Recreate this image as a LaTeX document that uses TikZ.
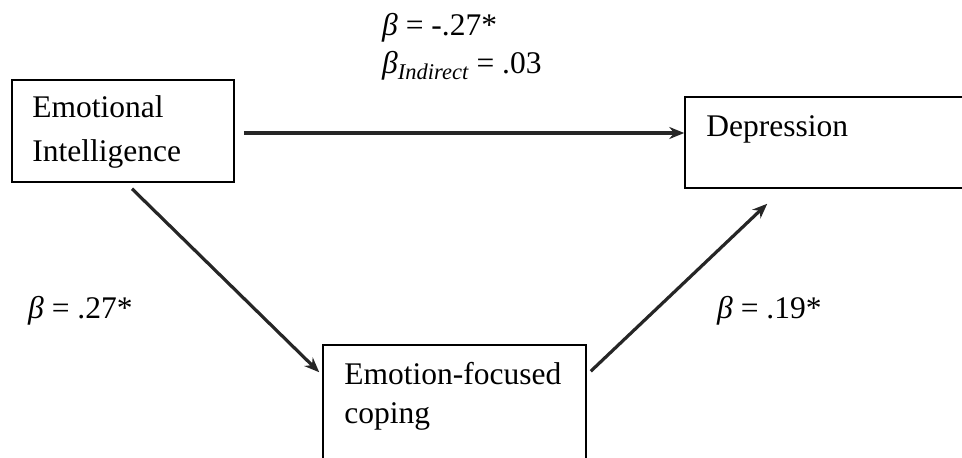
\documentclass[tikz,border=0pt]{standalone}
\usepackage{fontspec}
\setmainfont{Liberation Serif}
\usetikzlibrary{arrows.meta}

\begin{document}
\begin{tikzpicture}[
    x=1pt, y=-1pt,
    construct/.style={draw, line width=1.5pt, inner sep=0pt},
    boxtext/.style={font=\fontsize{31.5}{44}\selectfont, align=left, inner sep=0pt, anchor=north west},
    effect/.style={-{Stealth[length=15pt, width=12pt]}, line width=3.2pt, black!85},
    coef/.style={font=\fontsize{31.5}{36}\selectfont, inner sep=0pt, anchor=base west}
]
\clip (0,0) rectangle (962,458);

% Boxes
\node[construct, minimum width=222pt, minimum height=102pt] (ei) at (123,131) {};
\node[construct, minimum width=300pt, minimum height=91pt] (dep) at (835,142.5) {};
\node[construct, minimum width=263pt, minimum height=140pt] (efc) at (454.5,415) {};

% Box texts
\node[boxtext] (eiText) at ([shift={(21,16.5)}]ei.north west) {Emotional\\Intelligence};
\node[boxtext] (depText) at ([shift={(22,19.5)}]dep.north west) {Depression};
\node[boxtext, font=\fontsize{31.5}{39}\selectfont] (efcText) at ([shift={(22,17.5)}]efc.north west) {Emotion-focused\\coping};

% Paths
\draw[effect] ([shift={(9,2)}]ei.east) -- ([shift={(0,-9.5)}]dep.west);
\draw[effect] ([shift={(9,6)}]ei.south) -- ([shift={(-3,28)}]efc.north west);
\draw[effect] ([shift={(4,27)}]efc.north east) -- ([shift={(83,15)}]dep.south west);

% Coefficients
\node[coef] (direct) at (382,35) {\textit{β} = -.27*};
\node[coef] (indirect) at (382,73) {\textit{β}\raisebox{-6pt}{\fontsize{22.5}{22.5}\selectfont\textit{Indirect}} = .03};
\node[coef] (aPath) at (28,318) {\textit{β} = .27*};
\node[coef] (bPath) at (717,318) {\textit{β} = .19*};

\end{tikzpicture}
\end{document}
